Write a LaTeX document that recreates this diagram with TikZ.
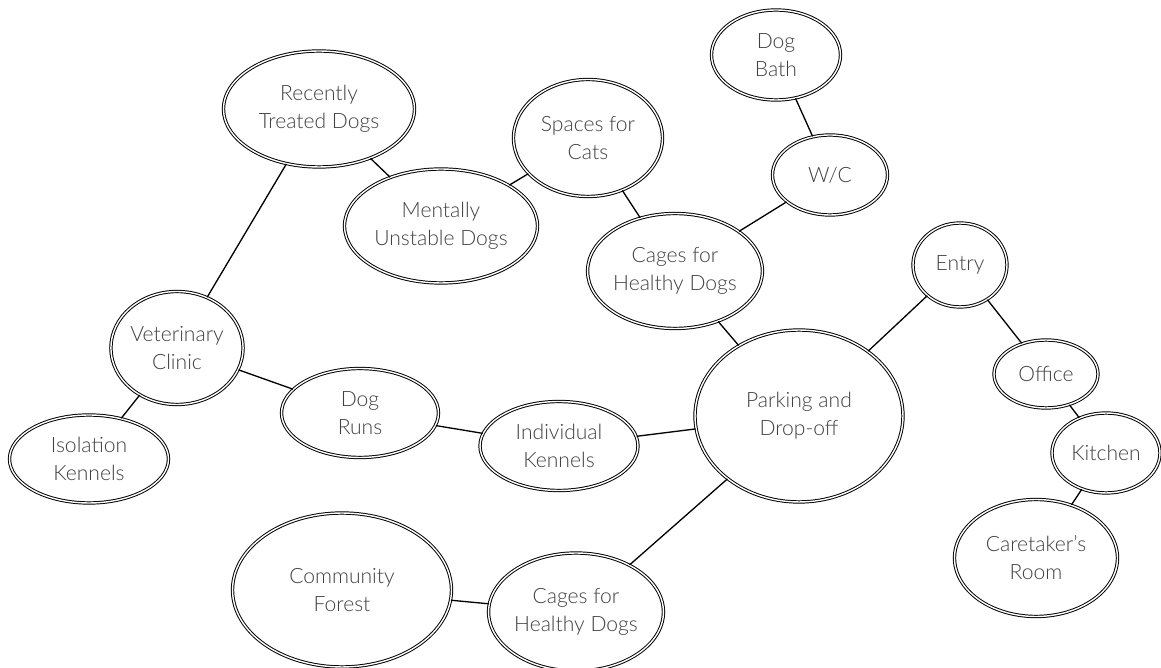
\documentclass[tikz,border=0pt]{standalone}
\usepackage{fontspec}
\setmainfont{Lato}[UprightFont = * Light]
\usetikzlibrary{shapes.geometric}

\newcommand{\bubblefont}{\fontsize{12pt}{16pt}\selectfont}

\begin{document}
\begin{tikzpicture}[x = 0.02cm, y = -0.02cm,
	bubble/.style = {ellipse, draw = black, line width = 0.55pt, double = white, double distance = 0.8pt, align = center, inner sep = 0pt, text = black!75, font = \bubblefont},
	link/.style = {line width = 0.75pt}]

	% Frame
	
	\useasboundingbox (0, 0) rectangle (1161, 668);
	
	% Left side
	
	\node [bubble, minimum width = 3.82cm, minimum height = 2.32cm] (rtd) at (319, 109) {Recently\\Treated Dogs};
	\node [bubble, minimum width = 3.86cm, minimum height = 2.28cm] (mud) at (441, 226) {Mentally\\Unstable Dogs};
	\node [bubble, minimum width = 2.6cm, minimum height = 2.26cm] (vet) at (177, 348) {Veterinary\\Clinic};
	\node [bubble, minimum width = 3.18cm, minimum height = 1.76cm] (iso) at (89, 459) {Isolation\\Kennels};
	\node [bubble, minimum width = 3.14cm, minimum height = 1.78cm] (run) at (360, 413) {Dog\\Runs};
	\node [bubble, minimum width = 3.16cm, minimum height = 1.78cm] (ind) at (559, 446) {Individual\\Kennels};
	\node [bubble, minimum width = 4.38cm, minimum height = 3.08cm] (for) at (342, 590) {Community\\Forest};
	\node [bubble, minimum width = 3.26cm, minimum height = 2.36cm] (cgl) at (576, 612) {Cages for\\Healthy Dogs};
	
	% Middle
	
	\node [bubble, minimum width = 2.98cm, minimum height = 2.34cm] (cat) at (588, 138) {Spaces for\\Cats};
	\node [bubble, minimum width = 3.28cm, minimum height = 2.3cm] (cgu) at (675, 271) {Cages for\\Healthy Dogs};
	\node [bubble, minimum width = 2.58cm, minimum height = 1.8cm] (bath) at (776, 55) {Dog\\Bath};
	\node [bubble, minimum width = 2.3cm, minimum height = 1.6cm] (wc) at (830, 175) {W/C};
	\node [bubble, minimum width = 4.16cm, minimum height = 3.44cm] (park) at (799, 416) {Parking and\\Drop-off};
	
	% Right side
	
	\node [bubble, minimum width = 1.88cm, minimum height = 1.68cm] (ent) at (960, 265) {Entry};
	\node [bubble, minimum width = 2.08cm, minimum height = 1.36cm] (off) at (1046, 374) {Office};
	\node [bubble, minimum width = 2.16cm, minimum height = 1.6cm] (kit) at (1106, 453) {Kitchen};
	\node [bubble, minimum width = 3.26cm, minimum height = 2.34cm] (room) at (1036, 558) {Caretaker's\\Room};
	
	% Links
	
	\draw [link] (rtd) -- (vet);
	\draw [link] (rtd) -- (mud);
	\draw [link] (mud) -- (cat);
	\draw [link] (cat) -- (cgu);
	\draw [link] (cgu) -- (wc);
	\draw [link] (wc) -- (bath);
	\draw [link] (cgu) -- (park);
	\draw [link] (park) -- (ent);
	\draw [link] (ent) -- (off);
	\draw [link] (off) -- (kit);
	\draw [link] (kit) -- (room);
	\draw [link] (park) -- (ind);
	\draw [link] (ind) -- (run);
	\draw [link] (run) -- (vet);
	\draw [link] (vet) -- (iso);
	\draw [link] (park) -- (cgl);
	\draw [link] (cgl) -- (for);
	
\end{tikzpicture}
\end{document}
